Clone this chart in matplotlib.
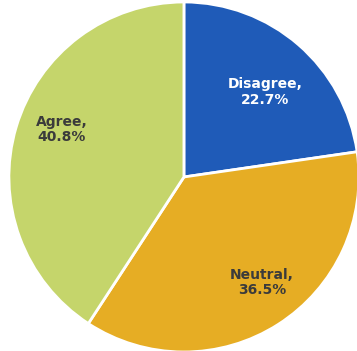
import numpy as np
import matplotlib.pyplot as plt

categorias = ["Disagree", "Neutral", "Agree"]
porcentajes = [22.7, 36.5, 40.8]
colores = ["#1f5bb8", "#e6ad24", "#c5d56b"]
colores_texto = ["white", "#3b3b3b", "#3b3b3b"]
radios_etiqueta = [0.67, 0.75, 0.75]
giro_etiqueta = [-2.7, 4.0, -4.6]  # grados respecto al centro de la porcion

fig = plt.figure(figsize=(3.57, 3.51), dpi=100)
ax = fig.add_axes([0, 0, 1, 1])

wedges, _ = ax.pie(porcentajes, colors=colores, startangle=90, counterclock=False,
                   radius=1.0, wedgeprops=dict(edgecolor="white", linewidth=2))

for w, cat, p, ct, r, g in zip(wedges, categorias, porcentajes, colores_texto,
                               radios_etiqueta, giro_etiqueta):
    ang = np.deg2rad((w.theta1 + w.theta2) / 2 + g)
    ax.text(r * np.cos(ang), r * np.sin(ang), f"{cat},\n{p}%", ha="center", va="center",
            color=ct, fontsize=10, fontweight="bold", linespacing=1.1)

ax.set_xlim(-1.051, 0.989)
ax.set_ylim(-0.994, 1.011)
ax.set_aspect("equal")
ax.axis("off")

fig.savefig("out.png", dpi=100)
